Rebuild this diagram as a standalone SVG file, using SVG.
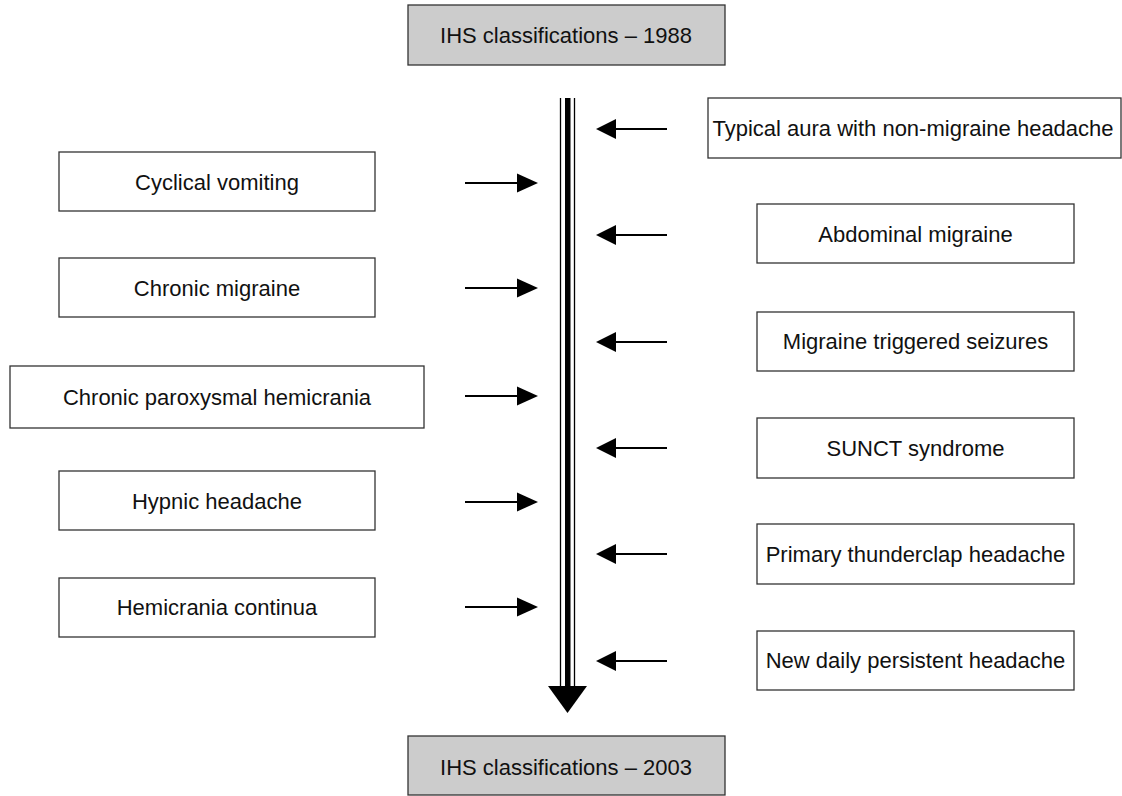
<svg xmlns="http://www.w3.org/2000/svg" width="1122" height="796" viewBox="0 0 1122 796">
<style>
  .box { fill: #ffffff; stroke: #333333; stroke-width: 1.3; }
  .gbox { fill: #cccccc; stroke: #333333; stroke-width: 1.3; }
  .lbl { font-family: "Liberation Sans", Arial, sans-serif; font-size: 22px; fill: #111111; text-anchor: middle; }
  .ln { stroke: #000000; stroke-width: 2; fill: none; }
  .hd { fill: #000000; }
</style>
<rect width="1122" height="796" fill="#ffffff"/>

<g id="top">
  <rect class="gbox" x="408" y="5" width="317" height="60"/>
  <text class="lbl" x="566" y="43">IHS classifications – 1988</text>
</g>
<g id="bottom">
  <rect class="gbox" x="408" y="736" width="317" height="59"/>
  <text class="lbl" x="566" y="775">IHS classifications – 2003</text>
</g>

<g id="timeline">
  <line x1="560.5" y1="98" x2="560.5" y2="687" stroke="#000" stroke-width="1.3"/>
  <line x1="574.5" y1="98" x2="574.5" y2="687" stroke="#000" stroke-width="1.3"/>
  <rect x="565" y="98" width="5.5" height="589" fill="#000"/>
  <polygon class="hd" points="548,686 587,686 567.5,713"/>
</g>

<g id="n-cyclical">
  <rect class="box" x="59" y="152" width="316" height="59"/>
  <text class="lbl" x="217" y="190">Cyclical vomiting</text>
</g>
<g id="n-chronic-migraine">
  <rect class="box" x="59" y="258" width="316" height="59"/>
  <text class="lbl" x="217" y="296">Chronic migraine</text>
</g>
<g id="n-cph">
  <rect class="box" x="10" y="366" width="414" height="62"/>
  <text class="lbl" x="217" y="405">Chronic paroxysmal hemicrania</text>
</g>
<g id="n-hypnic">
  <rect class="box" x="59" y="471" width="316" height="59"/>
  <text class="lbl" x="217" y="509">Hypnic headache</text>
</g>
<g id="n-hc">
  <rect class="box" x="59" y="578" width="316" height="59"/>
  <text class="lbl" x="217" y="615">Hemicrania continua</text>
</g>

<g id="n-typical">
  <rect class="box" x="708" y="98" width="413" height="60"/>
  <text class="lbl" x="913" y="136">Typical aura with non-migraine headache</text>
</g>
<g id="n-abdominal">
  <rect class="box" x="757" y="204" width="317" height="59"/>
  <text class="lbl" x="915.5" y="242">Abdominal migraine</text>
</g>
<g id="n-seizures">
  <rect class="box" x="757" y="312" width="317" height="59"/>
  <text class="lbl" x="915.5" y="349">Migraine triggered seizures</text>
</g>
<g id="n-sunct">
  <rect class="box" x="757" y="418" width="317" height="60"/>
  <text class="lbl" x="915.5" y="456">SUNCT syndrome</text>
</g>
<g id="n-thunderclap">
  <rect class="box" x="757" y="524" width="317" height="60"/>
  <text class="lbl" x="915.5" y="562">Primary thunderclap headache</text>
</g>
<g id="n-ndph">
  <rect class="box" x="757" y="631" width="317" height="59"/>
  <text class="lbl" x="915.5" y="668">New daily persistent headache</text>
</g>

<g id="connectors">
  <line class="ln" x1="465" y1="183" x2="519" y2="183"/><polygon class="hd" points="517,173.5 538,183 517,192.5"/>
  <line class="ln" x1="465" y1="288" x2="519" y2="288"/><polygon class="hd" points="517,278.5 538,288 517,297.5"/>
  <line class="ln" x1="465" y1="396" x2="519" y2="396"/><polygon class="hd" points="517,386.5 538,396 517,405.5"/>
  <line class="ln" x1="465" y1="502" x2="519" y2="502"/><polygon class="hd" points="517,492.5 538,502 517,511.5"/>
  <line class="ln" x1="465" y1="607" x2="519" y2="607"/><polygon class="hd" points="517,597.5 538,607 517,616.5"/>

  <line class="ln" x1="667" y1="129" x2="614" y2="129"/><polygon class="hd" points="616,119 596,129 616,139"/>
  <line class="ln" x1="667" y1="235" x2="614" y2="235"/><polygon class="hd" points="616,225 596,235 616,245"/>
  <line class="ln" x1="667" y1="342" x2="614" y2="342"/><polygon class="hd" points="616,332 596,342 616,352"/>
  <line class="ln" x1="667" y1="448" x2="614" y2="448"/><polygon class="hd" points="616,438 596,448 616,458"/>
  <line class="ln" x1="667" y1="554" x2="614" y2="554"/><polygon class="hd" points="616,544 596,554 616,564"/>
  <line class="ln" x1="667" y1="661" x2="614" y2="661"/><polygon class="hd" points="616,651 596,661 616,671"/>
</g>
</svg>
